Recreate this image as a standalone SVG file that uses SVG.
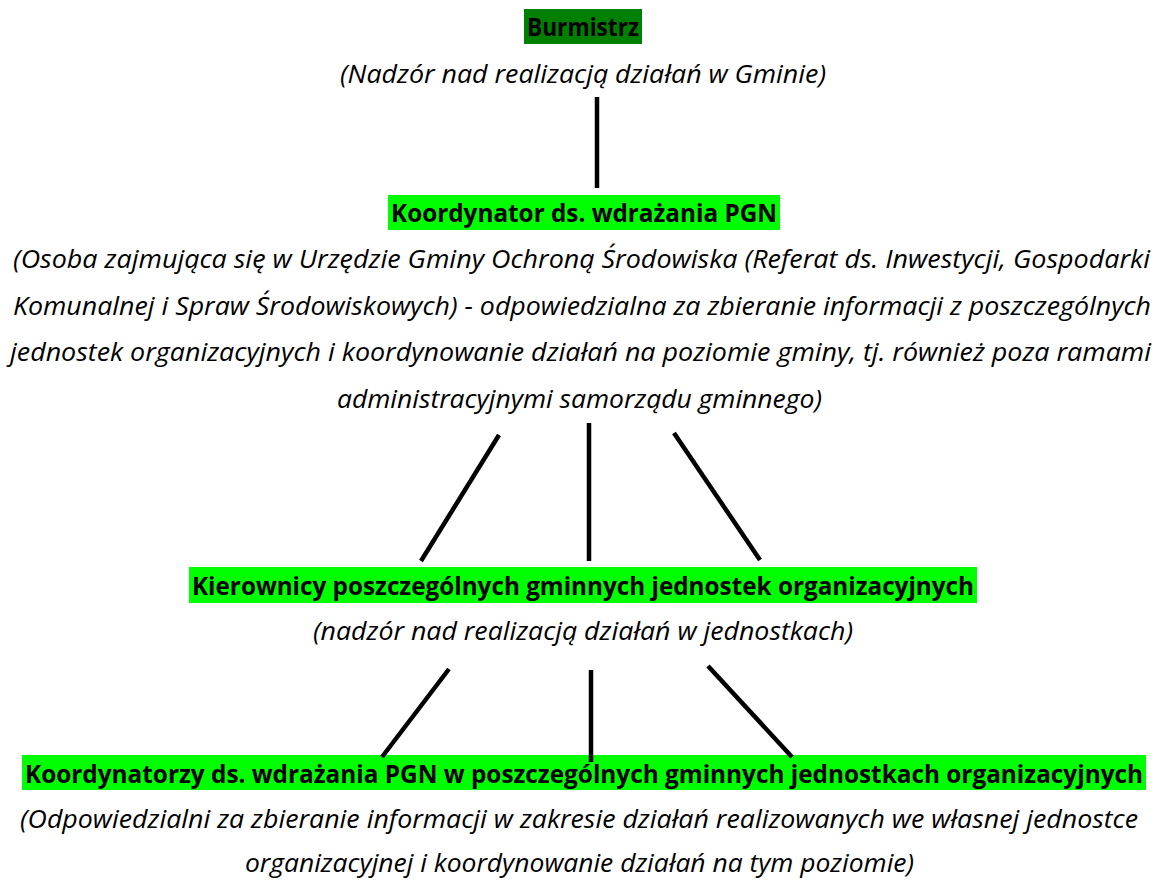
<svg xmlns="http://www.w3.org/2000/svg" width="1158" height="880" viewBox="0 0 1158 880">
<style>
.t{font-family:"Open Sans","Liberation Sans",sans-serif;font-size:25.5px;fill:#000}
.b{font-weight:bold}
.i{font-style:italic}
.hl{fill:#00ff00}
.hd{fill:#008000}
.c{stroke:#000;stroke-width:4.5;fill:none}
</style>
<rect width="1158" height="880" fill="#ffffff"/>
<g id="burmistrz">
<rect class="hd" x="524" y="9" width="118" height="35"/>
<text class="t b" x="527" y="36" textLength="112" lengthAdjust="spacingAndGlyphs">Burmistrz</text>
<text class="t i" x="340" y="83" textLength="486" lengthAdjust="spacingAndGlyphs">(Nadzór nad realizacją działań w Gminie)</text>
</g>
<g id="koordynator">
<rect class="hl" x="388" y="195" width="392" height="35"/>
<text class="t b" x="391" y="222" textLength="386" lengthAdjust="spacingAndGlyphs">Koordynator ds. wdrażania PGN</text>
<text class="t i" x="13" y="268" textLength="1137" lengthAdjust="spacingAndGlyphs">(Osoba zajmująca się w Urzędzie Gminy Ochroną Środowiska (Referat ds. Inwestycji, Gospodarki</text>
<text class="t i" x="13" y="315" textLength="1138" lengthAdjust="spacingAndGlyphs">Komunalnej i Spraw Środowiskowych) - odpowiedzialna za zbieranie informacji z poszczególnych</text>
<text class="t i" x="10" y="361" textLength="1141" lengthAdjust="spacingAndGlyphs">jednostek organizacyjnych i koordynowanie działań na poziomie gminy, tj. również poza ramami</text>
<text class="t i" x="337" y="408" textLength="485" lengthAdjust="spacingAndGlyphs">administracyjnymi samorządu gminnego)</text>
</g>
<g id="kierownicy">
<rect class="hl" x="189" y="567" width="788" height="36"/>
<text class="t b" x="192" y="595" textLength="782" lengthAdjust="spacingAndGlyphs">Kierownicy poszczególnych gminnych jednostek organizacyjnych</text>
<text class="t i" x="313" y="640" textLength="540" lengthAdjust="spacingAndGlyphs">(nadzór nad realizacją działań w jednostkach)</text>
</g>
<g id="koordynatorzy">
<rect class="hl" x="22" y="755" width="1124" height="35"/>
<text class="t b" x="25" y="783" textLength="1118" lengthAdjust="spacingAndGlyphs">Koordynatorzy ds. wdrażania PGN w poszczególnych gminnych jednostkach organizacyjnych</text>
<text class="t i" x="20" y="828" textLength="1118" lengthAdjust="spacingAndGlyphs">(Odpowiedzialni za zbieranie informacji w zakresie działań realizowanych we własnej jednostce</text>
<text class="t i" x="245" y="872" textLength="669" lengthAdjust="spacingAndGlyphs">organizacyjnej i koordynowanie działań na tym poziomie)</text>
</g>
<g id="connectors">
<line class="c" x1="597" y1="97" x2="597" y2="188"/>
<line class="c" x1="499" y1="435" x2="421" y2="561"/>
<line class="c" x1="589" y1="423" x2="589" y2="561"/>
<line class="c" x1="674" y1="433" x2="760" y2="560"/>
<line class="c" x1="449" y1="669" x2="382" y2="757"/>
<line class="c" x1="591" y1="670" x2="591" y2="762"/>
<line class="c" x1="708" y1="666" x2="792" y2="757"/>
</g>
</svg>
